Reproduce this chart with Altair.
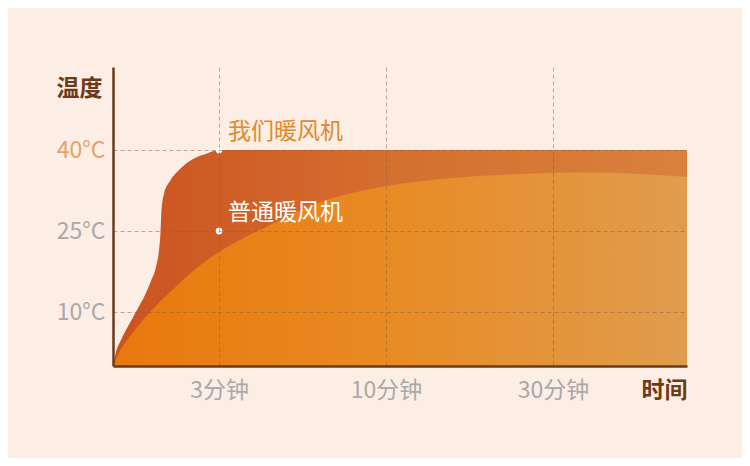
import altair as alt
import pandas as pd

# ---- data (minutes, °C) ----
ours_t = [0, 0.085, 0.226, 0.509, 0.679, 0.906, 1.075, 1.217, 1.302, 1.344, 1.373, 1.443, 1.613, 1.896, 2.264, 2.66, 3, 46]
ours_v = [0, 2.59, 4.82, 8.34, 10.38, 13.15, 15.75, 18.34, 21.49, 24.64, 28.9, 31.87, 34.28, 36.5, 38.35, 39.37, 40, 40]

normal_t = [0, 0.226, 0.509, 1.075, 1.755, 2.406, 3.0, 3.88, 5.14, 6.4, 7.65, 10.12, 17.31, 26.05, 33.22, 39.19, 46]
normal_v = [0, 3.15, 5.74, 10.19, 14.54, 18.34, 21.12, 23.35, 26.12, 28.81, 30.94, 33.35, 34.74, 35.57, 35.85, 35.67, 35.02]

label_t = [3, 3]
label_v = [40, 25]
label_text = ["我们暖风机", "普通暖风机"]
label_color = ["#E2892C", "#FFFFFF"]

x_ticks = [3, 10, 30]
y_ticks = [10, 25, 40]

FONT = "Noto Sans CJK SC"
BROWN = "#6B3A16"
GRAY = "#A9A9A9"
CREAM = "#FCEEE5"

ours_df = pd.DataFrame({"t": ours_t, "v": ours_v})
normal_df = pd.DataFrame({"t": normal_t, "v": normal_v})
label_df = pd.DataFrame({"t": label_t, "v": label_v, "text": label_text, "c": label_color})

xscale = alt.Scale(domain=[0, 3, 10, 30, 46], range=[0, 106, 273, 440, 574], nice=False, zero=False)
yscale = alt.Scale(domain=[0, 55.4], nice=False)

common_axis = dict(
    titleAngle=0,
    titleAlign="center",
    titleBaseline="middle",
    titleFont=FONT,
    titleFontSize=23,
    titleFontWeight="bold",
    titleColor=BROWN,
    labelFont=FONT,
    labelFontSize=23,
    ticks=False,
    tickSize=0,
    domainColor=BROWN,
    domainWidth=2.5,
    grid=True,
    gridColor="#8A5A3C",
    gridOpacity=0.5,
    gridDash=[4, 3],
    gridWidth=1,
    zindex=1,
)

xaxis = alt.Axis(
    values=x_ticks,
    labelExpr="datum.value + '分钟'",
    title="时间",
    titleX=551,
    titleY=24,
    labelColor=GRAY,
    labelPadding=13,
    **common_axis,
)

yaxis = alt.Axis(
    values=y_ticks,
    labelExpr="datum.value + '°C'",
    title="温度",
    titleX=-34,
    titleY=21,
    labelColor={"condition": {"test": "datum.value == 40", "value": "#E2A36A"}, "value": GRAY},
    labelPadding=8,
    **common_axis,
)

dark_fill = alt.Gradient(
    gradient="linear",
    stops=[
        alt.GradientStop(color="#CC5220", offset=0),
        alt.GradientStop(color="#D4702F", offset=0.5),
        alt.GradientStop(color="#D9813E", offset=1),
    ],
    x1=0, x2=1, y1=0, y2=0,
)
light_fill = alt.Gradient(
    gradient="linear",
    stops=[
        alt.GradientStop(color="#E9780C", offset=0),
        alt.GradientStop(color="#E88A22", offset=0.45),
        alt.GradientStop(color="#E09C4E", offset=1),
    ],
    x1=0, x2=1, y1=0, y2=0,
)

ours = alt.Chart(ours_df).mark_area(color=dark_fill, interpolate="monotone").encode(
    x=alt.X("t:Q", scale=xscale, axis=xaxis),
    y=alt.Y("v:Q", scale=yscale, axis=yaxis),
)

normal = alt.Chart(normal_df).mark_area(color=light_fill, interpolate="monotone").encode(
    x=alt.X("t:Q", scale=xscale),
    y=alt.Y("v:Q", scale=yscale),
)

dots = alt.Chart(label_df).mark_circle(size=45, color="#FFFFFF", opacity=1).encode(
    x=alt.X("t:Q", scale=xscale),
    y=alt.Y("v:Q", scale=yscale),
)

texts = alt.Chart(label_df).mark_text(
    align="left", baseline="middle", dx=9, dy=-18, fontSize=23, font=FONT
).encode(
    x=alt.X("t:Q", scale=xscale),
    y=alt.Y("v:Q", scale=yscale),
    text="text:N",
    color=alt.Color("c:N", scale=None),
)

chart = (
    alt.layer(ours, normal, dots, texts)
    .properties(
        width=574,
        height=299,
        background=CREAM,
        padding={"left": 105, "top": 59, "right": 55, "bottom": 92},
        autosize=alt.AutoSizeParams(type="none"),
    )
    .configure_view(stroke=None)
)

chart.save("out.html", embed_options={"renderer": "svg", "actions": False})
